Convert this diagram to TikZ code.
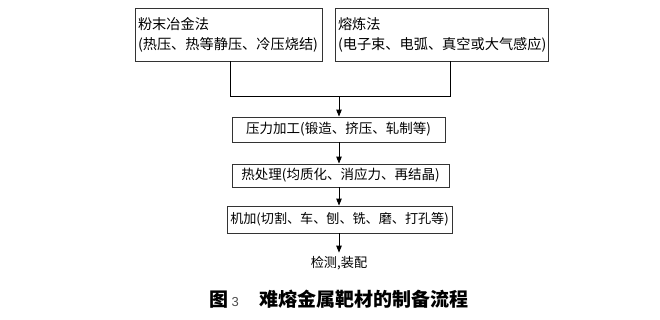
\documentclass[tikz,border=0pt]{standalone}
\usepackage{fontspec}
\setmainfont{Noto Sans CJK SC}
\newfontfamily\numfont{Liberation Sans}
\usetikzlibrary{arrows.meta,calc}
\begin{document}
\begin{tikzpicture}[x=1pt,y=-1pt,
  box/.style={draw=black!80,line width=0.9pt,inner sep=0pt,minimum height=#1},
  topbox/.style={box=53pt,align=left,font=\fontsize{14.2}{20}\selectfont,text width=#1,inner xsep=3pt},
  lowbox/.style={box=#1,font=\fontsize{13.5}{14}\selectfont},
  conn/.style={line width=0.9pt,black},
  arr/.style={conn,-{Triangle[length=7pt,width=5.5pt]}}]
\useasboundingbox (0,0) rectangle (660,319);
\node[topbox=181pt,minimum width=187pt] (b1) at (228.5,34.5) {粉末冶金法\\(热压、热等静压、冷压烧结)};
\node[topbox=207pt,minimum width=213pt] (b2) at (441.5,34.5) {熔炼法\\(电子束、电弧、真空或大气感应)};
\node[lowbox=25pt,minimum width=213pt] (b3) at (338.5,129.5) {压力加工(锻造、挤压、轧制等)};
\node[lowbox=23pt,minimum width=217pt] (b4) at (340.5,175.5) {热处理(均质化、消应力、再结晶)};
\node[lowbox=27pt,minimum width=225pt,font=\fontsize{13.1}{14}\selectfont] (b5) at (339.5,219.5) {机加(切割、车、刨、铣、磨、打孔等)};
\node[font=\fontsize{13.2}{14}\selectfont] (b6) at (339,263) {检测,装配};
\node[font=\fontsize{19}{22}\selectfont] (cap) at (339,299) {\textbf{图}\,{\numfont\fontsize{13}{14}\selectfont\color{black!70}3}\hspace{1.1em}\textbf{难熔金属靶材的制备流程}};
\coordinate (m) at (339,96);
\coordinate (l) at (230,96);
\coordinate (r) at (450,96);
\draw[conn] (l |- b1.south) -- (l) -- (r) -- (r |- b2.south);
\draw[arr] (m) -- (m |- b3.north);
\draw[arr] (m |- b3.south) -- (m |- b4.north);
\draw[arr] (m |- b4.south) -- (m |- b5.north);
\draw[arr] (m |- b5.south) -- (m |- b6.north);
\end{tikzpicture}
\end{document}
